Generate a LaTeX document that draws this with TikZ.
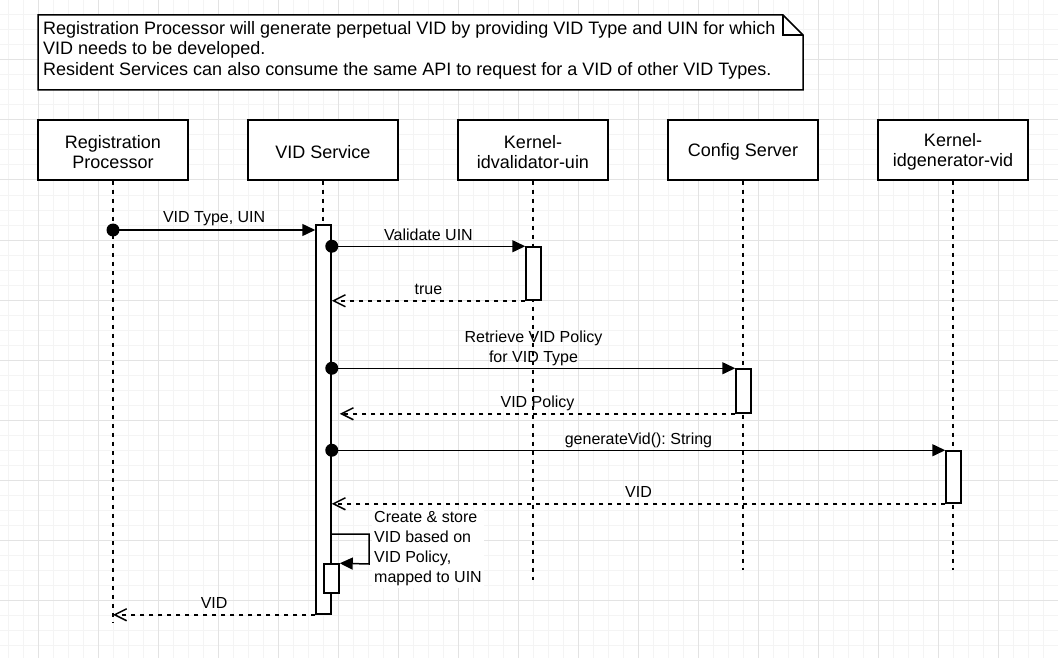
\documentclass[tikz,border=0pt]{standalone}
\usepackage{fontspec}
\setmainfont{Liberation Sans}
\usetikzlibrary{arrows.meta,calc}
\definecolor{minorgrid}{HTML}{F4F4F4}
\definecolor{majorgrid}{HTML}{E3E3E3}
\newcommand\headstrut{\rule{0pt}{17pt}}
\begin{document}
\frenchspacing
\begin{tikzpicture}[x=1pt,y=-1pt,
  head/.style={draw, line width=1.5pt, fill=white, minimum width=150pt, minimum height=60pt,
    align=center, inner sep=0pt, font=\fontsize{18}{20.5}\selectfont},
  life/.style={line width=1.5pt, dash pattern=on 4.5pt off 4.5pt},
  act/.style={draw, line width=1.5pt, fill=white, minimum width=15pt, inner sep=0pt},
  msg/.style={line width=1.5pt, -{Triangle[length=13pt,width=12pt]}},
  ret/.style={line width=1.5pt, dash pattern=on 4.5pt off 4.5pt,
    -{Straight Barb[length=12pt,width=12pt,line width=1.5pt]}},
  lbl/.style={font=\fontsize{16}{20}\selectfont, inner sep=0pt, anchor=base, yshift=6pt},
  dot/.style={fill=black}
]
\useasboundingbox (0,0) rectangle (1058,658);
\fill[white] (0,0) rectangle (1058,658);
% grid
\foreach \x in {8,23,...,1058} \draw[minorgrid, line width=1pt] (\x,0) -- (\x,658);
\foreach \y in {15,30,...,658} \draw[minorgrid, line width=1pt] (0,\y) -- (1058,\y);
\foreach \x in {38,98,...,1058} \draw[majorgrid, line width=1pt] (\x,0) -- (\x,658);
\foreach \y in {0,60,...,658} \draw[majorgrid, line width=1pt] (0,\y) -- (1058,\y);

% note
\draw[line width=1.5pt, fill=white, line join=miter] (38,15) -- (783,15) -- (803,35) -- (803,90) -- (38,90) -- cycle;
\draw[line width=1.5pt] (783,15) -- (783,35) -- (803,35);
\node[anchor=west, align=left, inner sep=0pt, font=\fontsize{18}{20.5}\selectfont] (note) at (43,50.2)
  {Registration Processor will generate perpetual VID by providing VID Type and UIN for which\\VID needs to be developed.\\Resident Services can also consume the same API to request for a VID of other VID Types.};

% lifeline heads
\node[head] (rp) at (113,150) {\headstrut Registration\\Processor};
\node[head] (vs) at (323,150) {\headstrut VID Service};
\node[head] (kv) at (533,150) {\headstrut Kernel-\\idvalidator-uin};
\node[head] (cs) at (743,150) {\headstrut Config Server};
\node[head] (kg) at (953,150) {\headstrut Kernel-\\idgenerator-vid};

% lifeline ends
\coordinate (rpe) at (113,622);
\coordinate (vse) at (323,614);
\coordinate (kve) at (533,580);
\coordinate (cse) at (743,570);
\coordinate (kge) at (953,570);
\draw[life] (rp.south) -- (rpe);
\draw[life] (vs.south) -- (vse);
\draw[life] (kv.south) -- (kve);
\draw[life] (cs.south) -- (cse);
\draw[life] (kg.south) -- (kge);

% activations
\node[act, minimum height=389pt] (vsa) at (323.5,419.5) {};
\node[act, minimum height=53pt] (kva) at (533.5,273.5) {};
\node[act, minimum height=44pt] (csa) at (743.5,391) {};
\node[act, minimum height=52pt] (kga) at (953.5,477) {};
\node[act, minimum height=29pt] (sa) at (331.5,578.5) {};

% message 1
\coordinate (m1) at (113,230);
\fill[dot] (m1) circle[radius=6.5];
\draw[msg] (m1) -- (vsa.west |- m1) node[lbl, midway, yshift=1.5pt] (l1) {VID Type, UIN};

% validate UIN
\coordinate (m2) at (vsa.east |- kva.north);
\fill[dot] (m2) circle[radius=6.5];
\draw[msg] (m2) -- (kva.north west) node[lbl, midway] (l2) {Validate UIN};
\draw[ret] (kva.south west) -- (vsa.east |- kva.south) node[lbl, midway] (l3) {true};

% retrieve policy
\coordinate (m3) at (vsa.east |- csa.north);
\fill[dot] (m3) circle[radius=6.5];
\draw[msg] (m3) -- (csa.north west) node[midway, inner sep=0pt, align=center, font=\fontsize{16}{20}\selectfont, anchor=center, yshift=19.5pt] (l4) {Retrieve VID Policy\\for VID Type};
\coordinate (r3) at ($(vsa.east |- csa.south)+(8,0)$);
\draw[ret] (csa.south west) -- (r3) node[lbl, midway] (l5) {VID Policy};

% generate
\coordinate (m4) at (vsa.east |- kga.north);
\fill[dot] (m4) circle[radius=6.5];
\draw[msg] (m4) -- (kga.north west) node[lbl, midway] (l6) {generateVid(): String};
\draw[ret] (kga.south west) -- (vsa.east |- kga.south) node[lbl, midway] (l7) {VID};

% self call
\coordinate (s0) at (331,534);
\coordinate (s1) at (369,534);
\coordinate (s2) at (369,564);
\draw[msg] (s0) -- (s1) -- (s2) -- (sa.north east);
\node[anchor=west, align=left, fill=white, inner xsep=2pt, inner ysep=2pt, font=\fontsize{16}{20}\selectfont] (sl) at (372,548.9)
  {Create \& store\\VID based on\\VID Policy,\\mapped to UIN};

% final return
\draw[ret] (vsa.south west) -- (rpe |- vsa.south west) node[lbl, midway] (l8) {VID};
\end{tikzpicture}
\end{document}
